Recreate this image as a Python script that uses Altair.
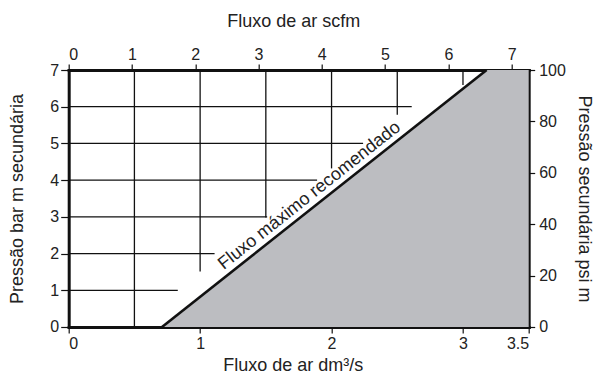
import altair as alt
import pandas as pd

# ---- data ----
h_y = [1, 2, 3, 4, 5, 6]                       # bar m
h_x_end = [0.83, 1.11, 1.51, 1.89, 2.24, 2.61]  # dm3/s
v_x = [0.5, 1.0, 1.5, 2.0, 2.5, 3.0]           # dm3/s
v_y_end = [0, 1.51, 2.98, 4.32, 5.78, 6.59]     # bar m
lim_x = [0.71, 3.18]
lim_y = [0, 7]
area_x = [0.71, 3.18, 3.5]
area_y = [0, 7, 7]
label_text = "Fluxo máximo recomendado"
label_x = [1.884]
label_y = [3.34]
bottom_ticks = [0, 1, 2, 3, 3.5]
left_ticks = [0, 1, 2, 3, 4, 5, 6, 7]
top_ticks = [0, 1, 2, 3, 4, 5, 6, 7]
right_ticks = [0, 20, 40, 60, 80, 100]

FONT = "Liberation Sans"
W, H = 460, 257

xs = alt.Scale(domain=[0, 3.5], nice=False, zero=False)
ys = alt.Scale(domain=[0, 7], nice=False, zero=False)

x_axis = alt.Axis(values=bottom_ticks, format="~r", orient="bottom", title="Fluxo de ar dm³/s",
                  tickSize=6, labelPadding=3, titleX=224, titleY=43.5,
                  titleBaseline="alphabetic", titleAlign="center", titleAngle=0)
y_axis = alt.Axis(values=left_ticks, format="d", orient="left", title="Pressão bar m secundária",
                  tickSize=8, labelPadding=2, titleX=-46, titleY=H / 2,
                  titleBaseline="alphabetic", titleAlign="center", titleAngle=270)


def X(field):
    return alt.X(field, type="quantitative", scale=xs, axis=x_axis)


def Y(field):
    return alt.Y(field, type="quantitative", scale=ys, axis=y_axis)


area_df = pd.DataFrame({"x": area_x, "y": area_y})
area = alt.Chart(area_df).mark_area(color="#bcbdc1", opacity=1).encode(
    x=X("x"), y=alt.Y("y", type="quantitative", scale=ys, axis=y_axis, stack=None)
)

hdf = pd.DataFrame({"y": h_y, "x0": [0] * len(h_y), "x1": h_x_end})
hrules = alt.Chart(hdf).mark_rule(color="#111", strokeWidth=1.3).encode(
    x=X("x0"), x2="x1", y=Y("y")
)

vdf = pd.DataFrame({"x": v_x, "y0": v_y_end, "y1": [7] * len(v_x)})
vrules = alt.Chart(vdf).mark_rule(color="#111", strokeWidth=1.3).encode(
    x=X("x"), y=Y("y0"), y2="y1"
)

ldf = pd.DataFrame({"x": lim_x, "y": lim_y})
limline = alt.Chart(ldf).mark_line(color="#111", strokeWidth=2.6).encode(
    x=X("x"), y=Y("y")
)

tdf = pd.DataFrame({"x": label_x, "y": label_y, "t": [label_text]})
txt = alt.Chart(tdf).mark_text(
    font=FONT, fontSize=18, color="#222", angle=321.6, align="center",
    baseline="alphabetic", dy=-6
).encode(x=X("x"), y=Y("y"), text="t:N")

main = alt.layer(area, hrules, vrules, limline, txt)

adf = pd.DataFrame({"s": [0, 7.27], "p": [0, 100]})
axes2 = alt.Chart(adf).mark_point(opacity=0).encode(
    x=alt.X("s", type="quantitative", scale=alt.Scale(domain=[0, 7.27], nice=False, zero=False),
            axis=alt.Axis(values=top_ticks, format="d", orient="top", title="Fluxo de ar scfm",
                          tickSize=6, labelPadding=1.5, titleX=224.5, titleY=-44,
                          titleBaseline="alphabetic", titleAlign="center", titleAngle=0)),
    y=alt.Y("p", type="quantitative", scale=alt.Scale(domain=[0, 100], nice=False, zero=False),
            axis=alt.Axis(values=right_ticks, format="d", orient="right",
                          title="Pressão secundária psi m",
                          tickSize=6, labelPadding=4, titleX=50, titleY=H / 2,
                          titleBaseline="alphabetic", titleAlign="center", titleAngle=90)),
)

chart = alt.layer(main, axes2).resolve_scale(x="independent", y="independent").properties(
    width=W, height=H,
    autosize=alt.AutoSizeParams(type="none"),
    padding={"left": 60.7, "top": 62, "right": 69, "bottom": 49},
    background="white",
).configure_view(strokeWidth=0).configure_axis(
    domainColor="#111", domainWidth=3, domainCap="square",
    tickColor="#111", tickWidth=1.2,
    labelFont=FONT, labelFontSize=16, labelColor="#222",
    titleFont=FONT, titleFontSize=18, titleFontWeight="normal", titleColor="#222",
    grid=False, zindex=1,
)

chart.save("out.html", embed_options={"renderer": "svg", "actions": False})
